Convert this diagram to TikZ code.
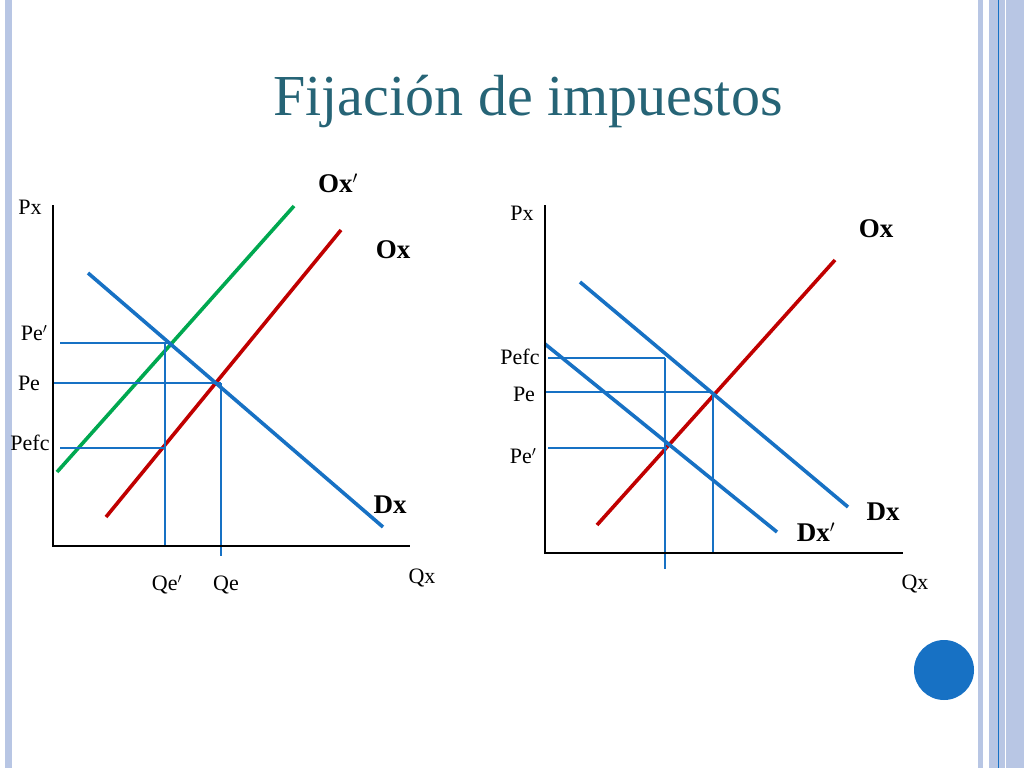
\documentclass[tikz,border=0pt]{standalone}
\usepackage{fontspec}
\setmainfont{Liberation Serif}
\usetikzlibrary{positioning}
\definecolor{stripe}{RGB}{184,198,228}
\definecolor{curveblue}{RGB}{23,113,196}
\definecolor{curvered}{RGB}{192,0,0}
\definecolor{curvegreen}{RGB}{0,168,80}
\definecolor{titleteal}{RGB}{38,100,118}
\begin{document}
\begin{tikzpicture}[x=1pt,y=-1pt,
  curve/.style={line width=3.6pt},
  guide/.style={curveblue,line width=1.3pt},
  axis/.style={line width=2.6pt},
  lab/.style={font=\fontsize{22}{24}\selectfont},
  blab/.style={font=\fontsize{27}{30}\selectfont\bfseries}]
  \useasboundingbox (0,0) rectangle (1024,768);
  % borders
  \fill[stripe] (5,0) rectangle (12,768);
  \fill[stripe] (978,0) rectangle (983,768);
  \fill[stripe] (989,0) rectangle (1024,768);
  \draw[curveblue,line width=0.8pt] (998,0) -- (998,768);
  \draw[white,line width=1pt] (1005,0) -- (1005,768);
  % title
  \node (title)[titleteal,font=\fontsize{58}{62}\selectfont] at (528,102) {Fijación de impuestos};
  % left chart
  \coordinate (ltop) at (53,205); \coordinate (lo) at (53,546); \coordinate (lend) at (410,546);
  \draw[curvegreen,curve] (57,472) -- (294,206);
  \draw[curvered,curve] (106,517) -- (341,230);
  \draw[curveblue,curve] (88,273) -- (383,527);
  \draw[guide] (60,343) -- (168,343);
  \draw[guide] (53,383) -- (221,383);
  \draw[guide] (60,448) -- (165,448);
  \draw[guide] (165,343) -- (165,546);
  \draw[guide] (221,383) -- (221,556);
  \draw[axis] (ltop) -- (lo) -- (lend);
  \node (lpx)[lab] at (30,207) {Px};
  \node (loxp)[blab] at (338,183) {Ox$'$};
  \node (lox)[blab] at (393,250) {Ox};
  \node (ldx)[blab] at (390,505) {Dx};
  \node (lpep)[lab] at (34,333) {Pe$'$};
  \node (lpe)[lab] at (29,383) {Pe};
  \node (lpefc)[lab] at (30,443) {Pefc};
  \node (lqep)[lab] at (167,585) {Qe$'$};
  \node (lqe)[lab] at (226,585) {Qe};
  \node (lqx)[lab] at (422,578) {Qx};
  % right chart
  \coordinate (rtop) at (545,205); \coordinate (ro) at (545,553); \coordinate (rend) at (903,553);
  \draw[curvered,curve] (597,525) -- (835,260);
  \draw[curveblue,curve] (580,282) -- (848,507);
  \draw[curveblue,curve] (545,344) -- (777,532);
  \draw[guide] (548,358) -- (665,358);
  \draw[guide] (545,392) -- (713,392);
  \draw[guide] (548,448) -- (667,448);
  \draw[guide] (665,358) -- (665,569);
  \draw[guide] (713,392) -- (713,553);
  \draw[axis] (rtop) -- (ro) -- (rend);
  \node (rpx)[lab] at (522,213) {Px};
  \node (rox)[blab] at (876,229) {Ox};
  \node (rpefc)[lab] at (520,357) {Pefc};
  \node (rpe)[lab] at (524,394) {Pe};
  \node (rpep)[lab] at (523,456) {Pe$'$};
  \node (rdx)[blab] at (883,512) {Dx};
  \node (rdxp)[blab] at (816,532) {Dx$'$};
  \node (rqx)[lab] at (915,584) {Qx};
  % circle
  \fill[curveblue] (944,670) circle (30);
\end{tikzpicture}
\end{document}
